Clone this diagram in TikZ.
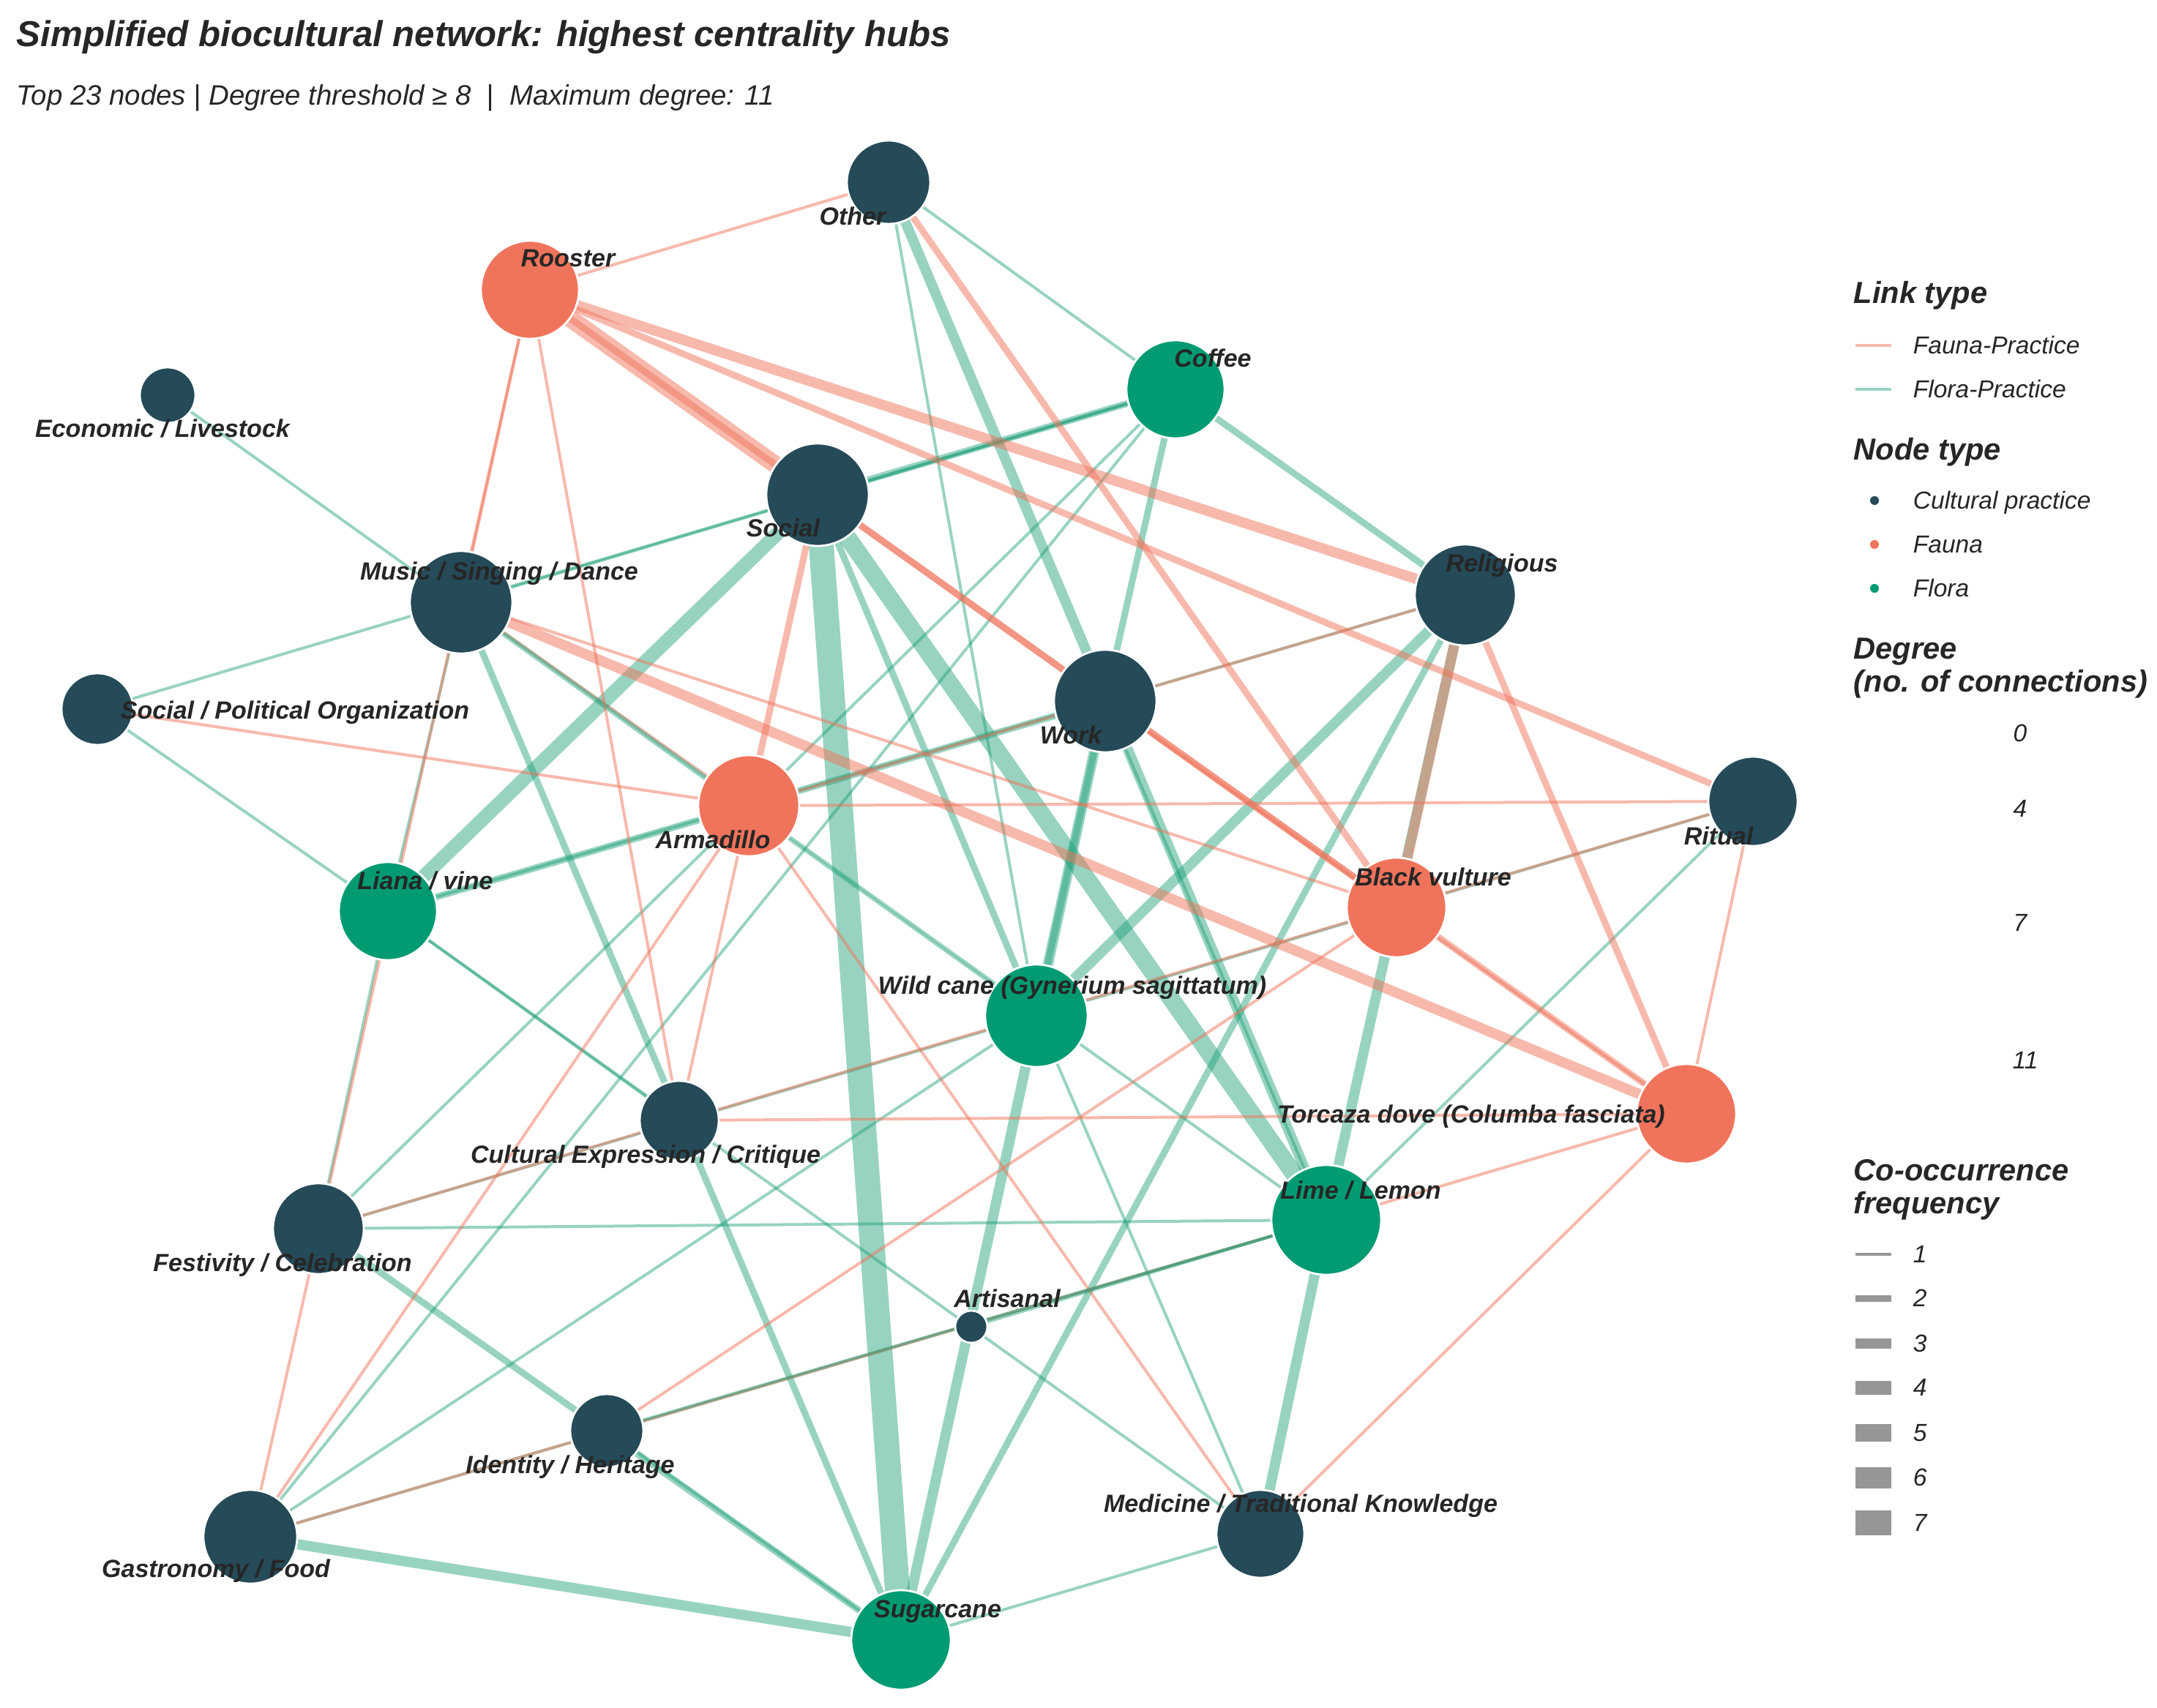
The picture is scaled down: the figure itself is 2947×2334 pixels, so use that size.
\documentclass[tikz,border=0pt]{standalone}
\usepackage{fontspec}
\setmainfont{Liberation Sans}
\usetikzlibrary{backgrounds}

\definecolor{practicecol}{HTML}{254A58}
\definecolor{faunacol}{HTML}{F0745B}
\definecolor{floracol}{HTML}{009B72}
\definecolor{floraedge}{HTML}{1B9E77}
\definecolor{labcol}{HTML}{262626}
\definecolor{freqcol}{HTML}{969696}

\newcommand{\labfont}{\fontsize{8.5}{10}\selectfont\bfseries\itshape}
\newcommand{\legfont}{\fontsize{8.4}{10}\selectfont\itshape}
\newcommand{\legtitlefont}{\fontsize{10.4}{12.5}\selectfont\bfseries\itshape}

\begin{document}
\begin{tikzpicture}[x=0.25pt, y=-0.25pt,
  hub/.style={circle, draw=white, line width=0.7pt, inner sep=0pt, minimum size=#1},
  practice/.style={hub=#1, fill=practicecol},
  fauna/.style={hub=#1, fill=faunacol},
  flora/.style={hub=#1, fill=floracol},
  lab/.style={anchor=base, font=\labfont, text=labcol, inner sep=0pt},
  faunalink/.style={draw=faunacol, draw opacity=0.5},
  floralink/.style={draw=floraedge, draw opacity=0.45},
  w1/.style={line width=1pt}, w2/.style={line width=2.25pt},
  w3/.style={line width=3.5pt}, w4/.style={line width=4.75pt},
  w5/.style={line width=6pt}, w6/.style={line width=7.25pt},
  w7/.style={line width=8.5pt},
  legtitle/.style={anchor=base west, font=\legtitlefont, text=labcol, inner sep=0pt},
  legtext/.style={anchor=base west, font=\legfont, text=labcol, inner sep=0pt}]

\useasboundingbox (0,0) rectangle (2947,2334);

% title
\node[anchor=base west, inner sep=0pt, text=labcol,
  font=\fontsize{12.3}{14}\selectfont\bfseries\itshape] (title) at (22,64)
  {Simplified biocultural network: highest centrality hubs};
\node[anchor=base west, inner sep=0pt, text=labcol,
  font=\fontsize{9.6}{12}\selectfont\itshape] (subtitle) at (22,143)
  {Top 23 nodes | Degree threshold ≥ 8\ \ |\ \ Maximum degree: 11};

% nodes
\node[practice=28.5pt] (other) at (1214,249) {};
\node[fauna=33.5pt] (rooster) at (724,396) {};
\node[flora=33.5pt] (coffee) at (1606,532) {};
\node[practice=19pt] (econ) at (229,540) {};
\node[practice=35pt] (social) at (1117,676) {};
\node[practice=35pt] (music) at (630,823) {};
\node[practice=34.5pt] (relig) at (2002,813) {};
\node[practice=24.5pt] (polit) at (133,969) {};
\node[practice=35pt] (work) at (1510,958) {};
\node[practice=30.5pt] (ritual) at (2395,1095) {};
\node[fauna=34.5pt] (armad) at (1023,1101) {};
\node[flora=33.5pt] (liana) at (530,1245) {};
\node[fauna=34pt] (vulture) at (1908,1240) {};
\node[flora=35pt] (wcane) at (1416,1388) {};
\node[fauna=34pt] (dove) at (2304,1522) {};
\node[practice=27pt] (critq) at (928,1531) {};
\node[practice=31pt] (fest) at (435,1679) {};
\node[flora=37.5pt] (lime) at (1812,1667) {};
\node[practice=11pt] (artis) at (1327,1813) {};
\node[practice=25pt] (ident) at (829,1955) {};
\node[practice=32pt] (gastro) at (342,2100) {};
\node[practice=30pt] (medic) at (1722,2096) {};
\node[flora=34pt] (sugar) at (1231,2241) {};

% links
\begin{scope}[on background layer]
\fill[white] (0,0) rectangle (2947,2334);
% fauna-practice, under the green ones
\draw[faunalink,w1] (armad.center) -- (music.center);
% flora-practice
\draw[floralink,w1] (coffee.center) -- (other.center);
\draw[floralink,w1] (coffee.center) -- (polit.center);
\draw[floralink,w1] (coffee.center) -- (music.center);
\draw[floralink,w2] (coffee.center) -- (social.center);
\draw[floralink,w2] (coffee.center) -- (relig.center);
\draw[floralink,w2] (coffee.center) -- (work.center);
\draw[floralink,w1] (coffee.center) -- (fest.center);
\draw[floralink,w1] (coffee.center) -- (gastro.center);
\draw[floralink,w4] (liana.center) -- (social.center);
\draw[floralink,w1] (liana.center) -- (music.center);
\draw[floralink,w1] (liana.center) -- (polit.center);
\draw[floralink,w2] (liana.center) -- (work.center);
\draw[floralink,w1] (liana.center) -- (relig.center);
\draw[floralink,w1] (liana.center) -- (fest.center);
\draw[floralink,w1] (liana.center) -- (critq.center);
\draw[floralink,w1] (liana.center) -- (medic.center);
\draw[floralink,w1] (wcane.center) -- (econ.center);
\draw[floralink,w1] (wcane.center) -- (other.center);
\draw[floralink,w2] (wcane.center) -- (social.center);
\draw[floralink,w3] (wcane.center) -- (relig.center);
\draw[floralink,w2] (wcane.center) -- (work.center);
\draw[floralink,w1] (wcane.center) -- (fest.center);
\draw[floralink,w1] (wcane.center) -- (ritual.center);
\draw[floralink,w1] (wcane.center) -- (gastro.center);
\draw[floralink,w1] (wcane.center) -- (medic.center);
\draw[floralink,w5] (lime.center) -- (social.center);
\draw[floralink,w3] (lime.center) -- (other.center);
\draw[floralink,w1] (lime.center) -- (work.center);
\draw[floralink,w3] (lime.center) -- (relig.center);
\draw[floralink,w1] (lime.center) -- (ritual.center);
\draw[floralink,w1] (lime.center) -- (music.center);
\draw[floralink,w1] (lime.center) -- (fest.center);
\draw[floralink,w1] (lime.center) -- (gastro.center);
\draw[floralink,w3] (lime.center) -- (medic.center);
\draw[floralink,w7] (sugar.center) -- (social.center);
\draw[floralink,w2] (sugar.center) -- (music.center);
\draw[floralink,w3] (sugar.center) -- (work.center);
\draw[floralink,w2] (sugar.center) -- (relig.center);
\draw[floralink,w1] (sugar.center) -- (medic.center);
\draw[floralink,w3] (sugar.center) -- (gastro.center);
\draw[floralink,w2] (sugar.center) -- (fest.center);
\draw[floralink,w1] (sugar.center) -- (ident.center);
% fauna-practice
\draw[faunalink,w1] (rooster.center) -- (other.center);
\draw[faunalink,w5] (rooster.center) -- (social.center);
\draw[faunalink,w3] (rooster.center) -- (relig.center);
\draw[faunalink,w2] (rooster.center) -- (ritual.center);
\draw[faunalink,w2] (rooster.center) -- (vulture.center);
\draw[faunalink,w1] (rooster.center) -- (music.center);
\draw[faunalink,w1] (rooster.center) -- (gastro.center);
\draw[faunalink,w1] (rooster.center) -- (critq.center);
\draw[faunalink,w2] (armad.center) -- (social.center);
\draw[faunalink,w1] (armad.center) -- (polit.center);
\draw[faunalink,w1] (armad.center) -- (ritual.center);
\draw[faunalink,w1] (armad.center) -- (relig.center);
\draw[faunalink,w1] (armad.center) -- (medic.center);
\draw[faunalink,w1] (armad.center) -- (critq.center);
\draw[faunalink,w1] (armad.center) -- (gastro.center);
\draw[faunalink,w2] (vulture.center) -- (other.center);
\draw[faunalink,w3] (vulture.center) -- (relig.center);
\draw[faunalink,w1] (vulture.center) -- (music.center);
\draw[faunalink,w1] (vulture.center) -- (fest.center);
\draw[faunalink,w1] (vulture.center) -- (ritual.center);
\draw[faunalink,w1] (vulture.center) -- (ident.center);
\draw[faunalink,w2] (dove.center) -- (social.center);
\draw[faunalink,w1] (dove.center) -- (work.center);
\draw[faunalink,w3] (dove.center) -- (music.center);
\draw[faunalink,w2] (dove.center) -- (relig.center);
\draw[faunalink,w1] (dove.center) -- (ritual.center);
\draw[faunalink,w1] (dove.center) -- (critq.center);
\draw[faunalink,w1] (dove.center) -- (gastro.center);
\draw[faunalink,w1] (dove.center) -- (medic.center);
% flora-practice, over the red ones
\draw[floralink,w1] (lime.center) -- (ident.center);
\draw[floralink,w1] (lime.center) -- (artis.center);
\end{scope}

% node labels
\node[lab] (other-l) at (1165,307) {Other};
\node[lab] (rooster-l) at (776,364) {Rooster};
\node[lab] (coffee-l) at (1657,501) {Coffee};
\node[lab] (econ-l) at (222,597) {Economic / Livestock};
\node[lab] (social-l) at (1070,733) {Social};
\node[lab] (music-l) at (682,792) {Music / Singing / Dance};
\node[lab] (relig-l) at (2052,781) {Religious};
\node[lab] (polit-l) at (403,982) {Social / Political Organization};
\node[lab] (work-l) at (1463,1016) {Work};
\node[lab] (ritual-l) at (2348,1154) {Ritual};
\node[lab] (armad-l) at (974,1159) {Armadillo};
\node[lab] (liana-l) at (581,1215) {Liana / vine};
\node[lab] (vulture-l) at (1958,1210) {Black vulture};
\node[lab] (wcane-l) at (1465,1358) {Wild cane (Gynerium sagittatum)};
\node[lab] (dove-l) at (2010,1534) {Torcaza dove (Columba fasciata)};
\node[lab] (critq-l) at (882,1589) {Cultural Expression / Critique};
\node[lab] (fest-l) at (386,1737) {Festivity / Celebration};
\node[lab] (lime-l) at (1859,1638) {Lime / Lemon};
\node[lab] (artis-l) at (1376,1786) {Artisanal};
\node[lab] (ident-l) at (779,2013) {Identity / Heritage};
\node[lab] (gastro-l) at (295,2155) {Gastronomy / Food};
\node[lab] (medic-l) at (1777,2066) {Medicine / Traditional Knowledge};
\node[lab] (sugar-l) at (1281,2210) {Sugarcane};

% legend: link type
\node[legtitle] (linktype) at (2532,414) {Link type};
\coordinate (fp-a) at (2535,472); \coordinate (fp-b) at (2584,472);
\draw[faunalink,w1] (fp-a) -- (fp-b);
\node[legtext] (fp-t) at (2613,483) {Fauna-Practice};
\coordinate (lp-a) at (2535,532); \coordinate (lp-b) at (2584,532);
\draw[floralink,w1] (lp-a) -- (lp-b);
\node[legtext] (lp-t) at (2613,543) {Flora-Practice};

% legend: node type
\node[legtitle] (nodetype) at (2532,628) {Node type};
\fill[practicecol] (2561,684) circle (6);
\node[legtext] (cp-t) at (2613,695) {Cultural practice};
\fill[faunacol] (2561,744) circle (6);
\node[legtext] (fa-t) at (2613,755) {Fauna};
\fill[floracol] (2561,804) circle (6);
\node[legtext] (fl-t) at (2613,815) {Flora};

% legend: degree
\node[legtitle] (degree) at (2532,900) {Degree};
\node[legtitle] (degree2) at (2532,945) {(no. of connections)};
\node[legtext, anchor=base] (d0) at (2760,1013) {0};
\node[legtext, anchor=base] (d4) at (2760,1116) {4};
\node[legtext, anchor=base] (d7) at (2760,1272) {7};
\node[legtext, anchor=base] (d11) at (2767,1460) {11};

% legend: frequency
\node[legtitle] (cooc) at (2532,1613) {Co-occurrence};
\node[legtitle] (cooc2) at (2532,1658) {frequency};
\draw[freqcol,w1] (2535,1714) -- (2584,1714);
\node[legtext] (f1) at (2613,1725) {1};
\draw[freqcol,w2] (2535,1774) -- (2584,1774);
\node[legtext] (f2) at (2613,1785) {2};
\draw[freqcol,w3] (2535,1836) -- (2584,1836);
\node[legtext] (f3) at (2613,1847) {3};
\draw[freqcol,w4] (2535,1896) -- (2584,1896);
\node[legtext] (f4) at (2613,1907) {4};
\draw[freqcol,w5] (2535,1958) -- (2584,1958);
\node[legtext] (f5) at (2613,1969) {5};
\draw[freqcol,w6] (2535,2019) -- (2584,2019);
\node[legtext] (f6) at (2613,2030) {6};
\draw[freqcol,w7] (2535,2081) -- (2584,2081);
\node[legtext] (f7) at (2613,2092) {7};

\end{tikzpicture}
\end{document}
